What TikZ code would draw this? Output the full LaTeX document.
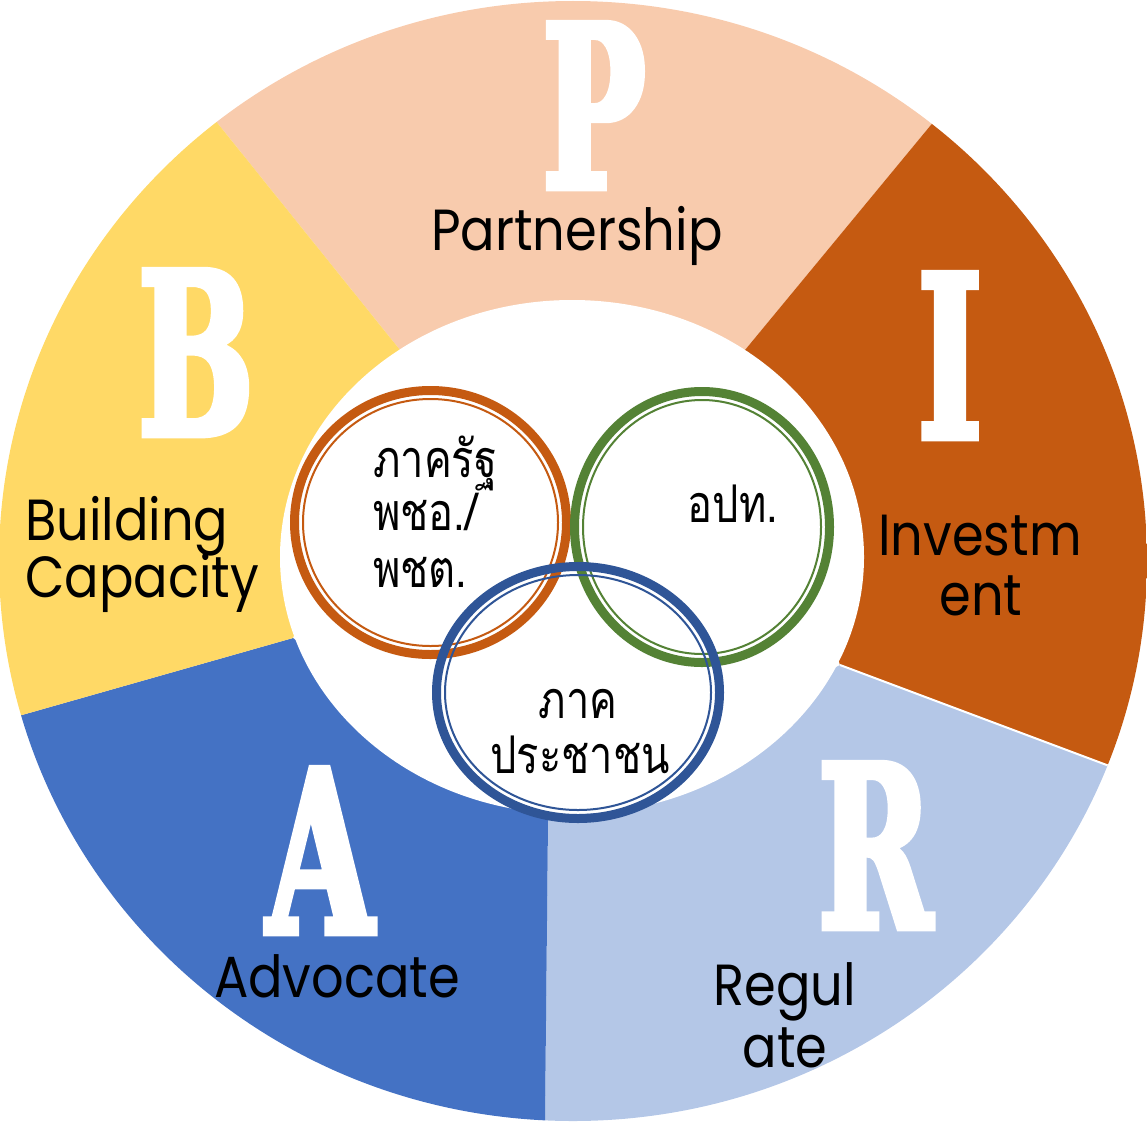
\documentclass[tikz,border=0pt]{standalone}
\usepackage{fontspec}
\newfontfamily\thaifont[Script=Thai,FakeStretch=0.8]{Loma}
\newfontfamily\latinfont[FakeStretch=0.88]{Poppins}
\newfontfamily\bigletter[FakeStretch=0.6,FakeBold=3]{DejaVu Serif}
\definecolor{cP}{HTML}{F8CBAD}
\definecolor{cI}{HTML}{C55A11}
\definecolor{cR}{HTML}{B4C7E7}
\definecolor{cA}{HTML}{4472C4}
\definecolor{cB}{HTML}{FFD966}
\definecolor{ringO}{HTML}{C55A11}
\definecolor{ringG}{HTML}{548235}
\definecolor{ringB}{HTML}{2F5597}
\tikzset{
  bigl/.style={font=\bigletter\bfseries\fontsize{226}{226}\selectfont, text=white, anchor=base, inner sep=0pt, text depth=0pt},
  lbl/.style={font=\latinfont\fontsize{58}{60}\selectfont, text=black, anchor=base, inner sep=0pt},
  inl/.style={font=\thaifont\fontsize{52}{56}\selectfont, text=black, anchor=base west, inner sep=0pt},
  inc/.style={font=\thaifont\fontsize{52}{56}\selectfont, text=black, anchor=base, inner sep=0pt},
}
\begin{document}
\begin{tikzpicture}[x=1pt,y=-1pt]
\useasboundingbox (0,0) rectangle (1147,1124);
% segments
\begin{scope}
\clip (573,561) ellipse [x radius=574, y radius=560];
\fill[cP] (400,350) -- (-155,-340) -- (1315,-340) -- (745,350) -- cycle;
\fill[cI] (745,350) -- (1315,-340) -- (1700,-340) -- (1641,965) -- (840,665) -- cycle;
\fill[cR] (840,665) -- (1641,965) -- (1641,1720) -- (539,1720) -- (548,820) -- cycle;
\fill[cA] (548,820) -- (539,1720) -- (-541,1720) -- (-541,875) -- (293,638) -- cycle;
\fill[cB] (293,638) -- (-541,875) -- (-541,-340) -- (-155,-340) -- (400,350) -- cycle;
\draw[white, line width=2pt] (840,665) -- (1200,800);
\end{scope}
% inner white
\fill[white] (572,557) ellipse [x radius=292, y radius=257];
% rings
\draw[ringO, line width=9pt] (430.5,522.5) ellipse [x radius=136, y radius=132];
\draw[ringO, line width=2pt] (430.5,522.5) ellipse [x radius=127.5, y radius=123.5];
\draw[ringG, line width=9pt] (702,527) ellipse [x radius=127.5, y radius=135.5];
\draw[ringG, line width=2pt] (702,527) ellipse [x radius=119, y radius=127];
\draw[ringB, line width=9pt] (578,692.5) ellipse [x radius=141.5, y radius=126];
\draw[ringB, line width=2pt] (578,692.5) ellipse [x radius=133, y radius=117.5];
% big letters
\node[bigl] (bigP) at (594,188) {P};
\node[bigl] (bigB) at (196,435) {B};
\node[bigl] (bigI) at (950,438) {I};
\node[bigl] (bigA) at (320,933) {A};
\node[bigl] (bigR) at (875,928) {R};
% labels
\node[lbl] (partner) at (577,250) {Partnership};
\node[lbl, anchor=base west] (build1) at (25,540) {Building};
\node[lbl, anchor=base west] (build2) at (25,597) {Capacity};
\node[lbl] (inv1) at (980,555) {Investm};
\node[lbl] (inv2) at (981,615) {ent};
\node[lbl] (reg1) at (785,1005) {Regul};
\node[lbl] (reg2) at (785,1067) {ate};
\node[lbl] (adv) at (337,997) {Advocate};
% inner texts
\node[inl] (gov1) at (373,477) {ภาครัฐ};
\node[inl] (gov2) at (373,530) {พชอ./};
\node[inl] (gov3) at (373,587) {พชต.};
\node[inc] (loc) at (733,522) {อปท.};
\node[inc] (pub1) at (578,718) {ภาค};
\node[inc] (pub2) at (580,773) {ประชาชน};
\end{tikzpicture}
\end{document}
